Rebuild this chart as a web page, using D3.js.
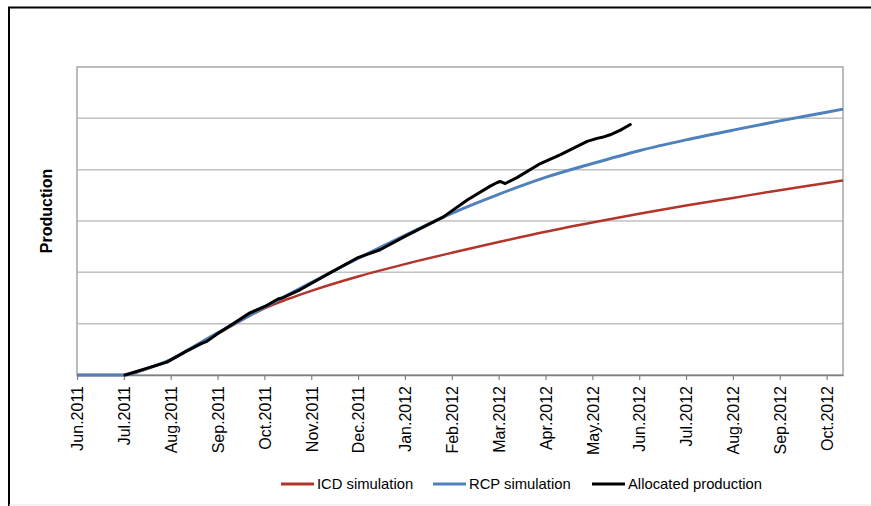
<!DOCTYPE html>
<html>
<head>
<meta charset="utf-8">
<script src="https://cdn.jsdelivr.net/npm/d3@7/dist/d3.min.js"></script>
<style>
  html, body { margin: 0; padding: 0; background: #fff; }
  svg { display: block; font-family: "Liberation Sans", Arial, sans-serif; }
</style>
</head>
<body>
<svg id="chart" width="871" height="506"></svg>
<script>
// Month tick labels (equally spaced months, index 0 = Jun.2011)
const monthLabels = ["Jun.2011","Jul.2011","Aug.2011","Sep.2011","Oct.2011","Nov.2011","Dec.2011",
  "Jan.2012","Feb.2012","Mar.2012","Apr.2012","May.2012","Jun.2012","Jul.2012","Aug.2012","Sep.2012","Oct.2012"];

// Series: month offset since Jun.2011, production (arbitrary units; 6 grid intervals)
const icdMonths = [0, 1, 1.5, 2, 2.5, 3, 3.5, 4, 4.5, 5, 6, 7, 8, 9, 10, 11, 12, 13, 14, 15, 16, 16.35];
const icdValues = [0, 0, 0.12, 0.3, 0.55, 0.8, 1.06, 1.3, 1.48, 1.64, 1.92, 2.16, 2.38, 2.59, 2.79, 2.97, 3.14, 3.3, 3.45, 3.6, 3.74, 3.79];

const rcpMonths = [0, 1, 1.5, 2, 2.5, 3, 3.5, 4, 5, 6, 7, 8, 9, 10, 11, 12, 13, 14, 15, 16, 16.35];
const rcpValues = [0, 0, 0.13, 0.3, 0.56, 0.82, 1.07, 1.32, 1.8, 2.27, 2.72, 3.15, 3.52, 3.85, 4.12, 4.37, 4.58, 4.77, 4.95, 5.12, 5.18];

const allocMonths = [1.025, 1.45, 1.92, 2.31, 2.63, 2.78, 2.99, 3.33, 3.69, 4.02, 4.29, 4.38, 4.76, 5.4, 5.98,
  6.47, 6.98, 7.82, 8.33, 8.82, 8.97, 9.03, 9.14, 9.4, 9.89, 10.31, 10.89, 11.1, 11.21, 11.38, 11.6, 11.81];
const allocValues = [0, 0.12, 0.25, 0.45, 0.6, 0.66, 0.8, 1.0, 1.21, 1.34, 1.48, 1.5, 1.66, 1.99, 2.28,
  2.44, 2.69, 3.08, 3.41, 3.68, 3.75, 3.77, 3.73, 3.85, 4.12, 4.29, 4.55, 4.61, 4.63, 4.68, 4.77, 4.88];

const yGrid = [0, 1, 2, 3, 4, 5, 6];

const seriesNames = ["ICD simulation", "RCP simulation", "Allocated production"];
const seriesColors = ["#B3342B", "#4F81BD", "#000000"];

const svg = d3.select("#chart");
const W = 871, H = 506;
const plot = { left: 77, right: 843, top: 67, bottom: 375 };

// outer frame
svg.append("line").attr("x1", 8).attr("x2", W).attr("y1", 7.5).attr("y2", 7.5)
  .attr("stroke", "#000").attr("stroke-width", 2);
svg.append("line").attr("x1", 9).attr("x2", 9).attr("y1", 7).attr("y2", H)
  .attr("stroke", "#000").attr("stroke-width", 2);
svg.append("line").attr("x1", 9).attr("x2", W).attr("y1", 505).attr("y2", 505)
  .attr("stroke", "#e6e6e6").attr("stroke-width", 1);

const x = d3.scaleLinear().domain([0, 16.35]).range([plot.left, plot.right]);
const y = d3.scaleLinear().domain([0, 6]).range([plot.bottom, plot.top]);

// gridlines
svg.append("g").selectAll("line").data(yGrid.slice(1, -1)).join("line")
  .attr("x1", plot.left).attr("x2", plot.right)
  .attr("y1", d => y(d)).attr("y2", d => y(d))
  .attr("stroke", "#c0c0c0").attr("stroke-width", 1.5);

// plot area border
svg.append("rect")
  .attr("x", plot.left).attr("y", plot.top)
  .attr("width", plot.right - plot.left).attr("height", plot.bottom - plot.top)
  .attr("fill", "none").attr("stroke", "#a6a6a6").attr("stroke-width", 1.5);

// x axis
const xAxis = d3.axisBottom(x)
  .tickValues(d3.range(monthLabels.length))
  .tickFormat(i => monthLabels[i])
  .tickSize(5).tickSizeOuter(0);
const gx = svg.append("g").attr("transform", `translate(0,${plot.bottom})`).call(xAxis);
gx.select(".domain").attr("stroke", "#808080").attr("stroke-width", 1.5);
gx.selectAll(".tick line").attr("stroke", "#808080").attr("stroke-width", 1.2);
gx.selectAll(".tick text")
  .attr("font-size", "16px")
  .attr("font-family", "Liberation Sans, Arial, sans-serif")
  .attr("fill", "#000")
  .attr("text-anchor", "end")
  .attr("transform", "rotate(-90)")
  .attr("x", -11).attr("y", 0).attr("dy", "0.36em");

// y label
svg.append("text")
  .attr("transform", `translate(52,211) rotate(-90)`)
  .attr("text-anchor", "middle")
  .attr("font-size", "16px").attr("font-weight", "bold").attr("fill", "#000")
  .text("Production");

const line = d3.line().x(d => x(d[0])).y(d => y(d[1])).curve(d3.curveMonotoneX);

const icd = icdMonths.map((m, i) => [m, icdValues[i]]);
const rcp = rcpMonths.map((m, i) => [m, rcpValues[i]]);
const alloc = allocMonths.map((m, i) => [m, allocValues[i]]);

svg.append("path").datum(icd).attr("d", line)
  .attr("fill", "none").attr("stroke", seriesColors[0]).attr("stroke-width", 2.5);
svg.append("path").datum(rcp).attr("d", line)
  .attr("fill", "none").attr("stroke", seriesColors[1]).attr("stroke-width", 3);
svg.append("path").datum(alloc).attr("d", d3.line().x(d => x(d[0])).y(d => y(d[1])))
  .attr("fill", "none").attr("stroke", seriesColors[2]).attr("stroke-width", 3)
  .attr("stroke-linejoin", "round").attr("stroke-linecap", "round");

// legend
const legendX = [281, 433, 592];
const lg = svg.append("g");
seriesNames.forEach((name, i) => {
  lg.append("line").attr("x1", legendX[i]).attr("x2", legendX[i] + 33)
    .attr("y1", 484).attr("y2", 484)
    .attr("stroke", seriesColors[i]).attr("stroke-width", 3);
  lg.append("text").attr("x", legendX[i] + 36).attr("y", 484).attr("dy", "0.36em")
    .attr("font-size", "14.8px").attr("fill", "#000").text(name);
});
</script>
</body>
</html>
